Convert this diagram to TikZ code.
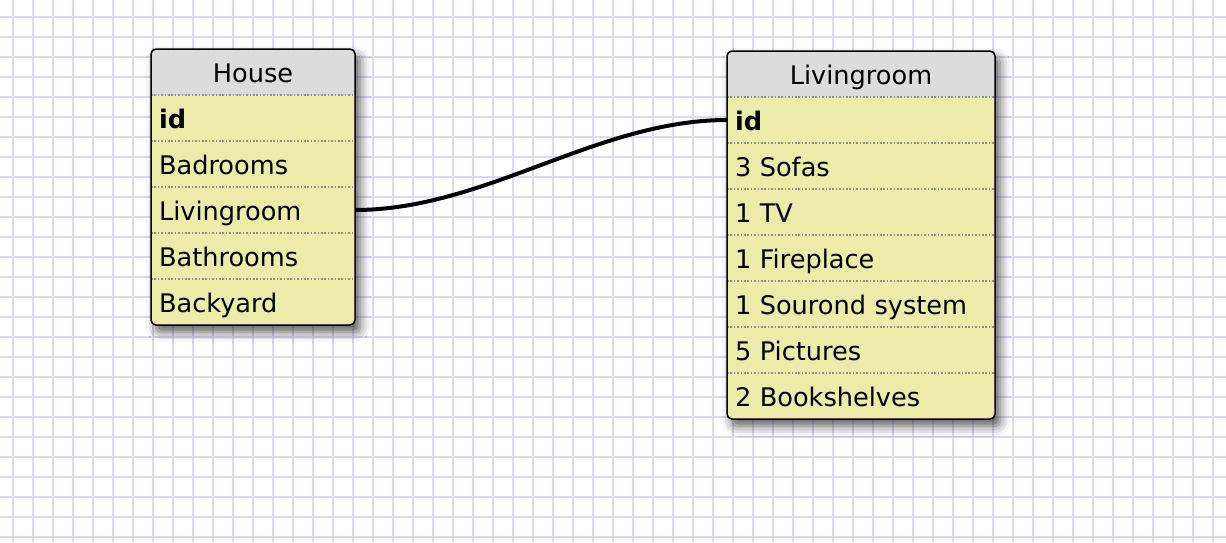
\documentclass[tikz,border=0pt]{standalone}
\usepackage{fontspec}
\setmainfont{DejaVu Sans}
\usetikzlibrary{positioning,shadows.blur}
\definecolor{gridlilac}{HTML}{DCD9F3}
\definecolor{headgrey}{HTML}{DCDCDC}
\definecolor{rowyellow}{HTML}{EDEBAA}
\definecolor{sepgrey}{HTML}{8C8C8C}
\pgfdeclarelayer{back}
\pgfsetlayers{back,main}

\begin{document}
\begin{tikzpicture}[x=1pt,y=1pt,
  cell/.style={text width=#1,align=left,inner xsep=4pt,inner ysep=0pt,outer sep=0pt,minimum height=23pt,
    text height=12pt,text depth=2pt,font=\fontsize{12.8}{15}\selectfont},
  sep/.style={sepgrey,line width=0.8pt,dash pattern=on 0.8pt off 0.9pt},
  frame/.style={line width=0.75pt,rounded corners=2.5pt},
  tableshadow/.style={blur shadow={shadow xshift=2.5pt,shadow yshift=-3.5pt,shadow blur radius=5pt,shadow opacity=65}},
  link/.style={line width=2pt}]
  \useasboundingbox (0,0) rectangle (613,-271);

  \node[cell=94pt,align=center,anchor=north west] (house) at (75.5,-24.5) {House};
  \node[cell=94pt,below=0pt of house] (h1) {\textbf{id}};
  \node[cell=94pt,below=0pt of h1] (h2) {Badrooms};
  \node[cell=94pt,below=0pt of h2] (h3) {Livingroom};
  \node[cell=94pt,below=0pt of h3] (h4) {Bathrooms};
  \node[cell=94pt,below=0pt of h4] (h5) {Backyard};

  \node[cell=126pt,align=center,anchor=north west] (living) at (363.5,-25.5) {Livingroom};
  \node[cell=126pt,below=0pt of living] (l1) {\textbf{id}};
  \node[cell=126pt,below=0pt of l1] (l2) {3 Sofas};
  \node[cell=126pt,below=0pt of l2] (l3) {1 TV};
  \node[cell=126pt,below=0pt of l3] (l4) {1 Fireplace};
  \node[cell=126pt,below=0pt of l4] (l5) {1 Sourond system};
  \node[cell=126pt,below=0pt of l5] (l6) {5 Pictures};
  \node[cell=126pt,below=0pt of l6] (l7) {2 Bookshelves};

  \begin{pgfonlayer}{back}
    \foreach \gx in {6.5,16.5,...,606.5}
      \draw[gridlilac,line width=1pt] (\gx,0) -- (\gx,-271);
    \foreach \gy in {8.25,18.25,...,268.25}
      \draw[gridlilac,line width=1pt] (0,-\gy) -- (613,-\gy);
    \fill[rowyellow,frame,tableshadow] (house.north west) rectangle (h5.south east);
    \fill[rowyellow,frame,tableshadow] (living.north west) rectangle (l7.south east);
    \fill[headgrey] (house.south west) [rounded corners=2.5pt] -- (house.north west)
      -- (house.north east) [sharp corners] -- (house.south east) -- cycle;
    \fill[headgrey] (living.south west) [rounded corners=2.5pt] -- (living.north west)
      -- (living.north east) [sharp corners] -- (living.south east) -- cycle;
  \end{pgfonlayer}

  \foreach \r in {house,h1,h2,h3,h4,living,l1,l2,l3,l4,l5,l6}
    \draw[sep] (\r.south west) -- (\r.south east);
  \draw[frame] (house.north west) rectangle (h5.south east);
  \draw[frame] (living.north west) rectangle (l7.south east);

  \draw[link] (h3.east) .. controls +(65,0) and +(-65,0) .. (l1.west);
\end{tikzpicture}
\end{document}
